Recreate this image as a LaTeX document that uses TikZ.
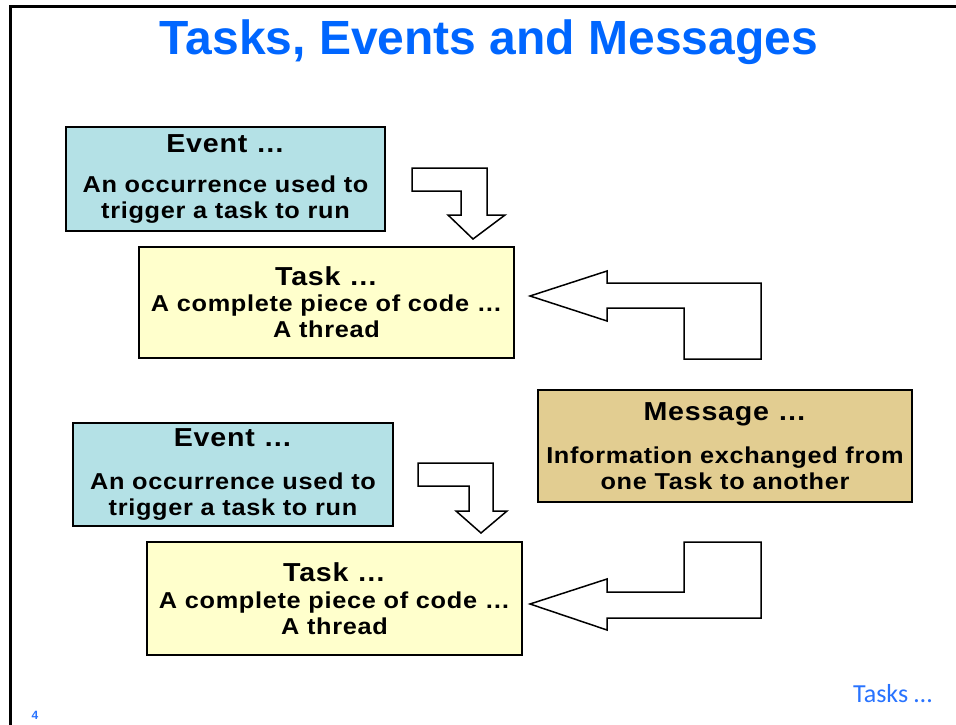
\documentclass[tikz,border=0pt]{standalone}
\usepackage{fontspec}
\usepackage{xcolor}
\setmainfont{Liberation Sans}
\newfontfamily\boxfont[FakeStretch=1.1,LetterSpace=3]{Liberation Sans}
\newfontfamily\footfont{Carlito}
\definecolor{colCyan}{RGB}{180,225,230}
\definecolor{colYellow}{RGB}{255,255,204}
\definecolor{colTan}{RGB}{226,205,145}
\definecolor{colTitle}{RGB}{0,102,255}
\definecolor{colFoot}{RGB}{40,115,255}
\tikzset{
    box/.style={rectangle, draw=black, line width=1.5pt, align=center, inner sep=0pt,
        font=\boxfont\bfseries\fontsize{23}{26}\selectfont},
    bigarrow/.style={draw=black, fill=white, line width=1.5pt, line join=miter}
}
\newcommand{\head}[1]{{\fontsize{26}{26}\selectfont #1}}

\begin{document}
\begin{tikzpicture}[x=1pt, y=-1pt]
    \useasboundingbox (0,0) rectangle (956,725);
    \draw[line width=3pt] (10.5,725) -- (10.5,7) -- (956,7);

    \node[anchor=base, text=colTitle, font=\bfseries\fontsize{48}{50}\selectfont] (title) at (489,55) {Tasks, Events and Messages};

    \node[box, fill=colCyan, minimum width=319pt, minimum height=104pt] (event1) at (225.5,179)
        {\head{Event …}\\[14pt]An occurrence used to\\trigger a task to run};
    \node[box, fill=colYellow, minimum width=375pt, minimum height=111pt] (task1) at (326.5,302.5)
        {\head{Task …}\\A complete piece of code …\\A thread};
    \node[box, fill=colTan, minimum width=374pt, minimum height=112pt] (message) at (725,446)
        {\head{Message …}\\[17pt]Information exchanged from\\one Task to another};
    \node[box, fill=colCyan, minimum width=320pt, minimum height=103pt] (event2) at (233,474.5)
        {\head{Event …}\\[17pt]An occurrence used to\\trigger a task to run};
    \node[box, fill=colYellow, minimum width=375pt, minimum height=113pt] (task2) at (334.5,598.5)
        {\head{Task …}\\[1pt]A complete piece of code …\\A thread};

    % block arrows
    \draw[bigarrow] (412,168) -- (487,168) -- (487,215) -- (505,215) -- (473,239)
        -- (448,215) -- (461,215) -- (461,191) -- (412,191) -- cycle;
    \draw[bigarrow] (530,296) -- (607,271) -- (607,283) -- (761,283) -- (761,359)
        -- (684,359) -- (684,308) -- (607,308) -- (607,321) -- cycle;
    \draw[bigarrow] (418,463) -- (493,463) -- (493,511) -- (507,511) -- (481,533)
        -- (456,511) -- (469,511) -- (469,486) -- (418,486) -- cycle;
    \draw[bigarrow] (530,604) -- (607,579) -- (607,592) -- (684,592) -- (684,542)
        -- (761,542) -- (761,618) -- (607,618) -- (607,630) -- cycle;

    \node[anchor=base west, inner sep=0pt, text=colFoot, font=\footfont\fontsize{26}{30}\selectfont] (next) at (853,702) {Tasks …};
    \node[anchor=base west, inner sep=0pt, text=colFoot, font=\bfseries\fontsize{12}{14}\selectfont] (page) at (31.5,719) {4};
\end{tikzpicture}
\end{document}
